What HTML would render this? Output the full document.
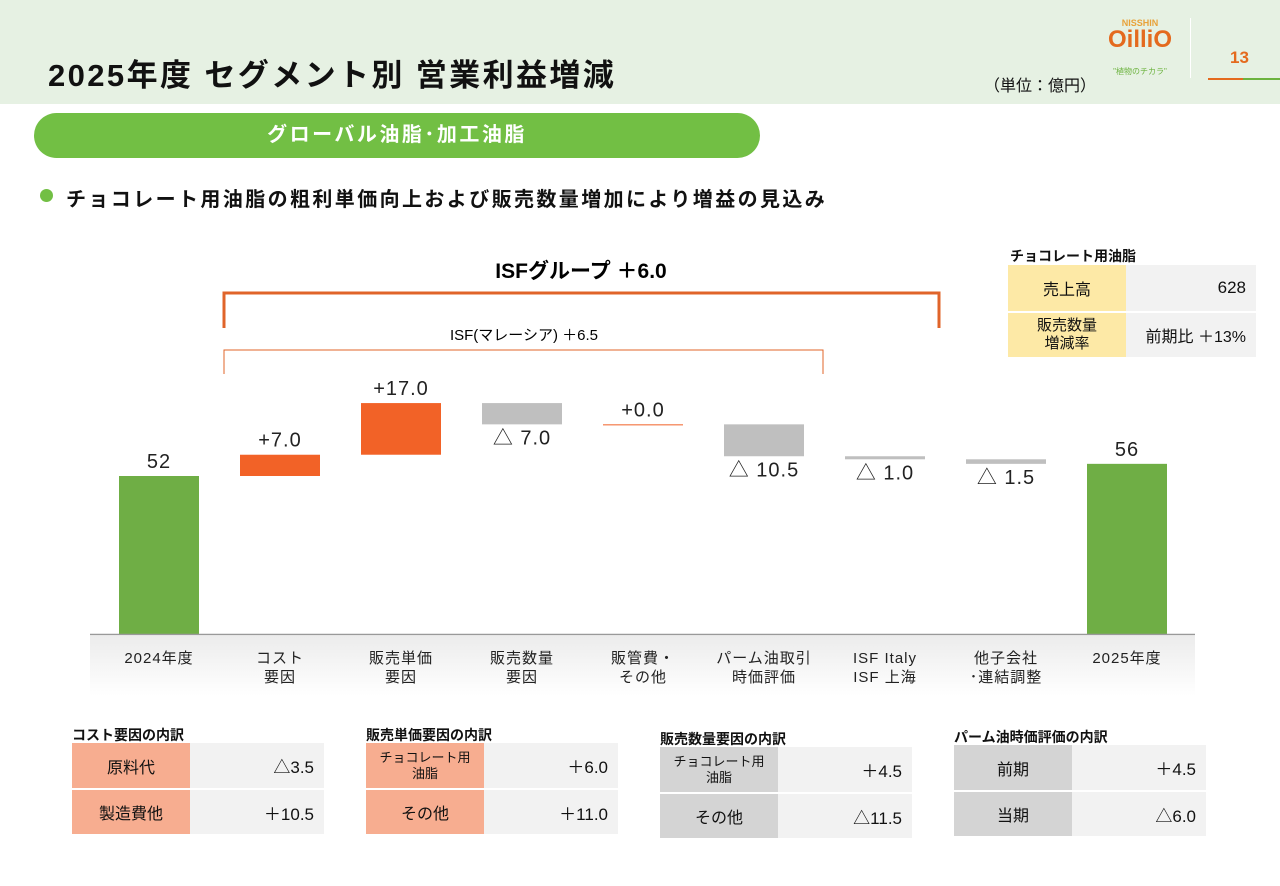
<!DOCTYPE html>
<html><head><meta charset="utf-8">
<style>
*{margin:0;padding:0;box-sizing:border-box}
body{width:1280px;height:886px;background:#fff;font-family:"Liberation Sans","Noto Sans CJK JP",sans-serif;position:relative;overflow:hidden;color:#111}
.abs{position:absolute}
table{border-collapse:collapse;position:absolute}
td{height:46px;font-size:16px;border-bottom:2px solid #fff}
td.l{text-align:center;width:118px}
td.r{text-align:right;padding-right:10px;background:#f2f2f2;width:134px;font-size:17px}
.cap{position:absolute;font-size:14px;font-weight:bold}
</style></head><body>
<div class="abs" style="left:0;top:0;width:1280px;height:104px;background:#e6f1e3"></div>
<div class="abs" style="left:48px;top:50px;font-size:31px;font-weight:bold;letter-spacing:2.4px">2025年度 セグメント別 営業利益増減</div>
<div class="abs" style="left:984px;top:72px;font-size:16px">（単位：億円）</div>
<div class="abs" style="left:1102px;top:18px;width:76px;text-align:center">
<div style="font-size:9px;font-weight:bold;color:#e8a23a">NISSHIN</div>
<div style="font-size:24px;font-weight:bold;color:#e46a1e;line-height:24px">OilliO</div>
<div style="font-size:8px;color:#6cb33f;margin-top:14px">"植物のチカラ"</div></div>
<div class="abs" style="left:1190px;top:18px;width:1px;height:60px;background:#fff"></div>
<div class="abs" style="left:1230px;top:48px;font-size:17px;font-weight:bold;color:#e46a1e">13</div>
<div class="abs" style="left:1208px;top:78px;width:35px;height:2px;background:#e46a1e"></div>
<div class="abs" style="left:1243px;top:78px;width:37px;height:2px;background:#6cb33f"></div>
<div class="abs" style="left:34px;top:113px;width:726px;height:45px;border-radius:23px;background:#72bf44;color:#fff;font-size:20px;font-weight:bold;text-align:center;line-height:45px;letter-spacing:2.5px">グローバル油脂･加工油脂</div>
<div class="abs" style="left:40px;top:189px;width:13px;height:13px;border-radius:50%;background:#72bf44"></div>
<div class="abs" style="left:66px;top:183px;font-size:20px;font-weight:bold;letter-spacing:2.4px">チョコレート用油脂の粗利単価向上および販売数量増加により増益の見込み</div>

<div class="cap" style="left:1010px;top:246px">チョコレート用油脂</div>
<table style="left:1008px;top:265px">
<tr><td class="l" style="background:#fde9a6;height:47px">売上高</td><td class="r" style="width:130px">628</td></tr>
<tr><td class="l" style="background:#fde9a6;height:45px;font-size:15px;line-height:18px">販売数量<br>増減率</td><td class="r" style="width:130px;font-size:16px">前期比 ＋13%</td></tr></table>

<svg class="abs" style="left:0;top:0" width="1280" height="886">
<defs><linearGradient id="sh" x1="0" y1="0" x2="0" y2="1"><stop offset="0" stop-color="#ececec"/><stop offset="1" stop-color="#fff"/></linearGradient></defs>
<rect x="90" y="636" width="1105" height="60" fill="url(#sh)"/>
<path d="M224 328 V293 H939 V328" fill="none" stroke="#e0642a" stroke-width="3"/>
<text x="581" y="278" font-size="21" font-weight="bold" text-anchor="middle">ISFグループ ＋6.0</text>
<path d="M224 374 V350 H823 V374" fill="none" stroke="#e0642a" stroke-width="1"/>
<text x="524" y="340" font-size="15" text-anchor="middle">ISF(マレーシア) ＋6.5</text>
<g id="bars"></g>
<line x1="90" y1="634.5" x2="1195" y2="634.5" stroke="#999" stroke-width="1.5"/>
</svg>

<div class="cap" style="left:72px;top:725px">コスト要因の内訳</div>
<table style="left:72px;top:743px">
<tr><td class="l" style="background:#f7ad90">原料代</td><td class="r">△3.5</td></tr>
<tr><td class="l" style="background:#f7ad90">製造費他</td><td class="r">＋10.5</td></tr></table>
<div class="cap" style="left:366px;top:725px">販売単価要因の内訳</div>
<table style="left:366px;top:743px">
<tr><td class="l" style="background:#f7ad90;font-size:13px;line-height:16px">チョコレート用<br>油脂</td><td class="r">＋6.0</td></tr>
<tr><td class="l" style="background:#f7ad90">その他</td><td class="r">＋11.0</td></tr></table>
<div class="cap" style="left:660px;top:729px">販売数量要因の内訳</div>
<table style="left:660px;top:747px">
<tr><td class="l" style="background:#d4d4d4;font-size:13px;line-height:16px">チョコレート用<br>油脂</td><td class="r">＋4.5</td></tr>
<tr><td class="l" style="background:#d4d4d4">その他</td><td class="r">△11.5</td></tr></table>
<div class="cap" style="left:954px;top:727px">パーム油時価評価の内訳</div>
<table style="left:954px;top:745px">
<tr><td class="l" style="background:#d4d4d4">前期</td><td class="r">＋4.5</td></tr>
<tr><td class="l" style="background:#d4d4d4">当期</td><td class="r">△6.0</td></tr></table>

<script>
const categories=[["2024年度"],["コスト","要因"],["販売単価","要因"],["販売数量","要因"],["販管費・","その他"],["パーム油取引","時価評価"],["ISF Italy","ISF 上海"],["他子会社","･連結調整"],["2025年度"]];
const deltas=[52,7.0,17.0,-7.0,0.0,-10.5,-1.0,-1.5,56];
const labels=["52","+7.0","+17.0","△ 7.0","+0.0","△ 10.5","△ 1.0","△ 1.5","56"];
const NS="http://www.w3.org/2000/svg";
const g=document.getElementById('bars');
const y=v=>634-v*158/52, x=i=>159+i*121;
let run=0;
function mk(t,a){const e=document.createElementNS(NS,t);for(const k in a)e.setAttribute(k,a[k]);g.appendChild(e);return e;}
deltas.forEach((d,i)=>{
  const total=(i===0||i===deltas.length-1);
  let a,b,col;
  if(total){a=0;b=d;col="#6fae45";run=d;}
  else{a=run;b=run+d;run=b;col=d>0?"#f26227":(d<0?"#bfbfbf":"#f26227");}
  const top=y(Math.max(a,b)),bot=y(Math.min(a,b));
  const h=Math.max(bot-top,d===0?1:3);
  const r=mk('rect',{x:x(i)-40,y:d<0&&h===3?top-1:top,width:80,height:h,fill:col});
  
  
  const ly=d>=0?top-8:top+h+20;
  const t=mk('text',{x:x(i),y:ly,'font-size':20,'text-anchor':'middle',fill:'#222','letter-spacing':'1'});
  t.textContent=labels[i];
  
  
  categories[i].forEach((s,j)=>{
    const c=mk('text',{x:x(i),y:663+j*19,'font-size':15,'text-anchor':'middle',fill:'#222','letter-spacing':'1'});
    c.textContent=s;
    
    
  });
});
</script>
</body></html>
